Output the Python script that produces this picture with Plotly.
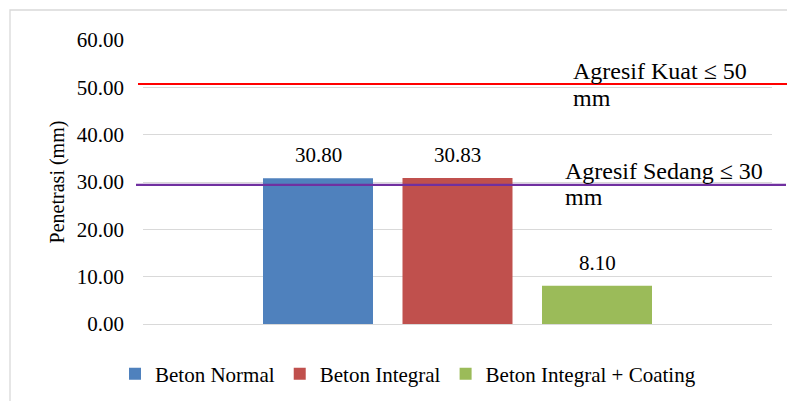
import plotly.graph_objects as go

# Penetration depth per concrete type (mm)
series = ["Beton Normal", "Beton Integral", "Beton Integral + Coating"]
values = [30.80, 30.83, 8.10]
colors = ["#4F81BD", "#C0504D", "#9BBB59"]

# Aggressiveness limits drawn as reference lines
limit_kuat = 50.7
limit_sedang = 29.4
tick_vals = [0, 10, 20, 30, 40, 50, 60]

FONT = "Liberation Serif"

# plot area in pixels (for paper-coordinate helpers)
W, H = 787, 401
L, R, T, B = 143, 15, 40, 77
pw, ph = W - L - R, H - T - B

# bars sit side by side in one cluster, centred in the plot
slot = 139.5                      # px between bar centres
bar_w = 110 / slot                # bar width in slot units
half_span = pw / slot / 2
positions = [-1, 0, 1]


def px_x(x):
    return (x - L) / pw


def px_y(y):
    return (H - B - y) / ph


fig = go.Figure()
for name, v, c, xp in zip(series, values, colors, positions):
    fig.add_trace(go.Bar(
        x=[xp], y=[v], name=name, marker_color=c, marker_line_width=0,
        width=bar_w,
    ))

shapes = [
    # outer chart border
    dict(type="rect", xref="paper", yref="paper",
         x0=px_x(10), x1=px_x(800), y0=px_y(410), y1=px_y(10),
         line=dict(color="#D9D9D9", width=1.3), layer="below"),
    dict(type="line", xref="paper", yref="y",
         x0=px_x(138), x1=px_x(790), y0=limit_kuat, y1=limit_kuat,
         line=dict(color="#FF0000", width=2.2)),
    dict(type="line", xref="paper", yref="y",
         x0=px_x(136), x1=px_x(786), y0=limit_sedang, y1=limit_sedang,
         line=dict(color="#7030A0", width=2.2)),
]


def note(text, x_px, y_val):
    return dict(text=text, xref="paper", yref="y", x=px_x(x_px), y=y_val,
                xanchor="left", yanchor="middle", align="left",
                showarrow=False,
                font=dict(family=FONT, size=24, color="#000000"))


annotations = [
    note("Agresif Kuat ≤ 50", 571, 53.45),
    note("mm", 571, 47.75),
    note("Agresif Sedang ≤ 30", 563, 32.3),
    note("mm", 563, 26.8),
]
# value labels above each bar
for v, xp in zip(values, positions):
    annotations.append(dict(
        text=f"{v:.2f}", x=xp, y=v, xref="x", yref="y",
        xanchor="center", yanchor="bottom", yshift=9, showarrow=False,
        font=dict(family=FONT, size=21, color="#000000")))

fig.update_layout(
    width=W, height=H,
    margin=dict(l=L, r=R, t=T, b=B, autoexpand=False),
    paper_bgcolor="#FFFFFF", plot_bgcolor="#FFFFFF",
    barmode="overlay",
    font=dict(family=FONT, color="#000000"),
    showlegend=True,
    legend=dict(orientation="h", x=408 / W, xref="container", xanchor="center",
                y=1 - 374 / H, yref="container", yanchor="middle",
                font=dict(family=FONT, size=21),
                itemwidth=30, traceorder="normal"),
    shapes=shapes, annotations=annotations,
)
fig.update_xaxes(range=[-half_span, half_span], showticklabels=False,
                 showgrid=False, zeroline=False, showline=False)
fig.update_yaxes(range=[0, 60], tickvals=tick_vals, tickformat=".2f",
                 showgrid=True, gridcolor="#D9D9D9", gridwidth=1.3,
                 zeroline=True, zerolinecolor="#D9D9D9", zerolinewidth=1.3,
                 ticks="", ticklabelstandoff=18,
                 tickfont=dict(family=FONT, size=21),
                 title=dict(text="Penetrasi (mm)", standoff=6,
                            font=dict(family=FONT, size=20)))

fig.write_html("out.html")
